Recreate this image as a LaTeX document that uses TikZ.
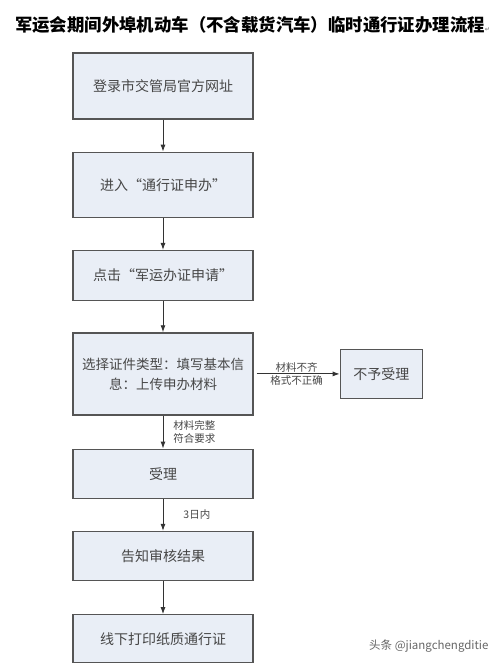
\documentclass[tikz,border=0pt]{standalone}
\usepackage{fontspec}
\usepackage{xcolor}
\usetikzlibrary{positioning,arrows.meta}
\newfontfamily\cjk{Noto Sans CJK SC}
\newfontfamily\symfont{DejaVu Sans}
\definecolor{boxfill}{RGB}{233, 238, 246}
\definecolor{boxline}{RGB}{85, 85, 85}
\definecolor{boxtext}{RGB}{70, 70, 70}

\begin{document}
\begin{tikzpicture}[
    x=1pt, y=1pt,
    node distance=32pt,
    every node/.style={align=center, font=\cjk},
    procbox/.style={rectangle, draw=boxline, line width=1.3pt, fill=boxfill, text=boxtext, minimum width=180pt, font=\cjk\fontsize{14}{18}\selectfont},
    rejectbox/.style={procbox, minimum width=82pt, minimum height=49pt},
    edgelabel/.style={text=boxtext, font=\cjk\fontsize{10.5}{13}\selectfont, inner sep=1pt},
    arrow/.style={->, >={Latex[length=7pt, width=5pt]}, line width=0.9pt, color=black!80}
]
\useasboundingbox (0,0) rectangle (500,-667);

% Title
\node[anchor=west, inner sep=1pt, font=\cjk\bfseries\fontsize{17.4}{21}\selectfont] (title) at (14,-25)
  {军运会期间外埠机动车（不含载货汽车）临时通行证办理流程{\symfont\fontsize{6}{7}\selectfont\color{black!50}↵}};

% Main column
\node[procbox, minimum height=66pt] (login) at (163,-86) {登录市交管局官方网址};
\node[procbox, minimum height=65pt, below=of login] (enter) {进入“通行证申办”};
\node[procbox, minimum height=50pt, below=of enter] (click) {点击“军运办证申请”};
\node[procbox, minimum height=82pt, below=31pt of click, font=\cjk\fontsize{13.5}{20}\selectfont] (fill) {选择证件类型：填写基本信\\息：上传申办材料};
\node[procbox, minimum height=49pt, below=33pt of fill] (accept) {受理};
\node[procbox, minimum height=49pt, below=of accept] (notify) {告知审核结果};
\node[procbox, minimum height=48pt, below=33pt of notify] (print) {线下打印纸质通行证};

% Side branch
\node[rejectbox, right=86pt of fill] (reject) {不予受理};

% Directed flow
\draw[arrow] (login) -- (enter);
\draw[arrow] (enter) -- (click);
\draw[arrow] (click) -- (fill);
\draw[arrow] (fill) -- node[edgelabel, right=9pt] {材料完整\\符合要求} (accept);
\draw[arrow] (accept) -- node[edgelabel, right=19pt] {3日内} (notify);
\draw[arrow] (notify) -- (print);
\draw[arrow, shorten <=3pt] (fill) -- node[edgelabel, above] {材料不齐} node[edgelabel, below] {格式不正确} (reject);

% Watermark
\node[anchor=east, text=black!60, font=\cjk\fontsize{11.5}{14}\selectfont] (mark) at (492,-646) {头条 @jiangchengditie};
\end{tikzpicture}
\end{document}
